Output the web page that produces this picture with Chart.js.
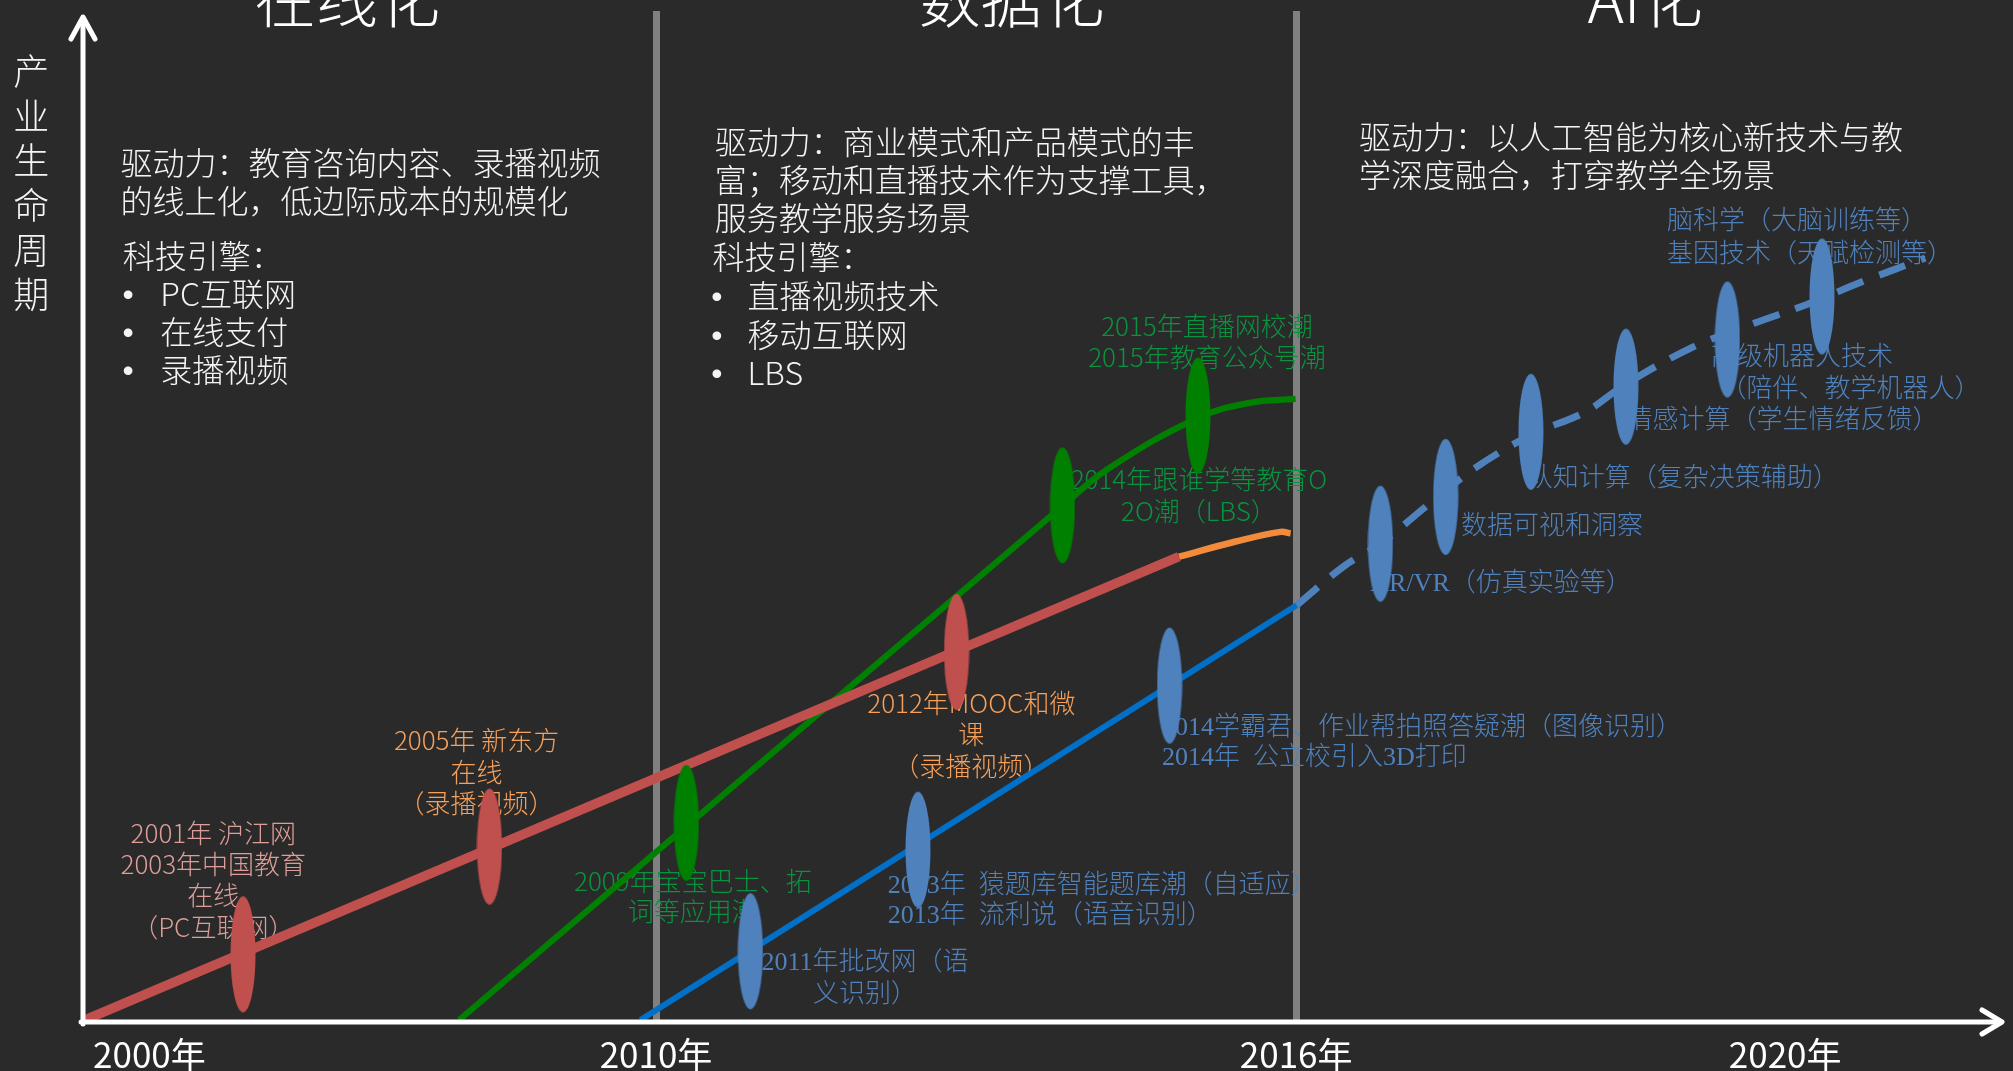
<!DOCTYPE html>
<html>
<head>
<meta charset="utf-8">
<script src="https://cdn.jsdelivr.net/npm/chart.js@4.4.1/dist/chart.umd.min.js"></script>
<style>
  html, body { margin: 0; padding: 0; background: #2a2a2a; overflow: hidden; }
  #wrap { width: 2013px; height: 1071px; position: relative; }
</style>
</head>
<body>
<div id="wrap"><canvas id="c" width="2013" height="1071"></canvas></div>
<script>
// ---------- data (abstract position units: x 0..100 time axis, y 0..100 industry life cycle) ----------
const xTickValues = [3.46, 29.86, 63.22, 88.7];
const xTickLabels = ['2000年', '2010年', '2016年', '2020年'];
const phaseBoundaries = [29.86, 63.22];          // 2010年 / 2016年 dividers
const yAxisTitle = '产业生命周期';

// 在线化 curve (red) and its tail (orange)
const onlineX = [0.1, 57.11];
const onlineY = [0.1, 45.97];
const onlineTailX = [57.11, 60.02, 62.41, 62.93];
const onlineTailY = [45.97, 47.45, 48.43, 48.28];

// 数据化 curve (green)
const dataX = [19.6, 51.04, 53.38, 58.10, 60.80, 63.19];
const dataY = [0.1, 50.98, 54.62, 59.72, 61.20, 61.59];

// AI curve: solid part (blue) and forecast (dashed)
const aiX = [29.05, 63.24];
const aiY = [0.1, 41.16];
const aiForecastX = [63.24, 65.68, 67.60, 70.14, 72.59, 75.49, 78.30, 80.32, 83.75, 86.76, 89.93, 92.83, 96.00];
const aiForecastY = [41.16, 44.99, 47.25, 51.18, 54.81, 58.06, 60.31, 62.97, 66.60, 68.86, 71.02, 73.28, 75.54];

// milestones (ellipses)
const onlineMilestoneX = [8.34, 21.18, 45.52];
const onlineMilestoneY = [6.60, 17.26, 36.54];
const dataMilestoneX = [31.44, 51.04, 58.10];
const dataMilestoneY = [19.62, 51.05, 59.94];
const aiMilestoneX = [34.78, 43.51, 56.62, 67.61, 71.01, 75.45, 80.40, 85.69, 90.62];
const aiMilestoneY = [6.90, 16.96, 33.20, 47.25, 51.89, 58.33, 62.80, 67.47, 71.73];

// ---------- text content ----------
const SANS = '"Noto Sans CJK SC", sans-serif';
const SERIF = '"Liberation Serif", "Noto Sans CJK SC", serif';
const BULLET = '"Liberation Sans", "DejaVu Sans", sans-serif';
const WHITE = '#f4f4f4';
const PINK = '#dd9e99';
const ORANGE = '#f7a05a';
const GREEN_T = '#0a933e';
const BLUE_T = '#4f81bd';

const phaseTitles = [
  { text: '在线化', x: 13.76 },
  { text: '数据化', x: 48.39 },
  { text: 'AI化', x: 81.4 }
];
const phaseTitleY = 101.1;

const textItems = [
  // phase 1 description
  { lines: ['驱动力：教育咨询内容、录播视频', '的线上化，低边际成本的规模化'], x: 1.95, y: 84.43, step: 38.5, size: 32, color: WHITE, align: 'left', font: SANS },
  { lines: ['科技引擎：'], x: 2.07, y: 75.15, step: 38, size: 32, color: WHITE, align: 'left', font: SANS },
  { lines: ['•', '•', '•'], x: 2.35, y: 71.41, step: 38, size: 32, color: WHITE, align: 'center', font: BULLET },
  { lines: ['PC互联网', '在线支付', '录播视频'], x: 4.03, y: 71.41, step: 38, size: 32, color: WHITE, align: 'left', font: SANS },
  // phase 2 description
  { lines: ['驱动力：商业模式和产品模式的丰', '富；移动和直播技术作为支撑工具，', '服务教学服务场景'], x: 32.92, y: 86.44, step: 38, size: 32, color: WHITE, align: 'left', font: SANS },
  { lines: ['科技引擎：'], x: 32.80, y: 75.05, step: 38, size: 32, color: WHITE, align: 'left', font: SANS },
  { lines: ['•', '•', '•'], x: 33.03, y: 71.22, step: 38.5, size: 32, color: WHITE, align: 'center', font: BULLET },
  { lines: ['直播视频技术', '移动互联网', 'LBS'], x: 34.63, y: 71.22, step: 38.5, size: 32, color: WHITE, align: 'left', font: SANS },
  // phase 3 description
  { lines: ['驱动力：以人工智能为核心新技术与教', '学深度融合，打穿教学全场景'], x: 66.49, y: 86.94, step: 38, size: 32, color: WHITE, align: 'left', font: SANS },

  // milestone labels
  { lines: ['2001年 沪江网', '2003年中国教育', '在线', '（PC互联网）'], x: 6.79, y: 18.17, step: 31.4, size: 26, color: PINK, align: 'center', font: SANS },
  { lines: ['2005年 新东方', '在线', '（录播视频）'], x: 20.51, y: 27.31, step: 31.5, size: 26, color: ORANGE, align: 'center', font: SANS },
  { lines: ['2012年MOOC和微', '课', '（录播视频）'], x: 46.29, y: 31.04, step: 31.5, size: 26, color: ORANGE, align: 'center', font: SANS },
  { lines: ['2009年宝宝巴士、拓', '词等应用潮'], x: 31.78, y: 13.36, step: 30, size: 26, color: GREEN_T, align: 'center', font: SANS },
  { lines: ['2014年跟谁学等教育O', '2O潮（LBS）'], x: 58.15, y: 53.14, step: 31.7, size: 26, color: GREEN_T, align: 'center', font: SANS },
  { lines: ['2015年直播网校潮', '2015年教育公众号潮'], x: 58.57, y: 68.37, step: 31, size: 26, color: GREEN_T, align: 'center', font: SANS },
  { lines: ['2011年批改网（语', '义识别）'], x: 40.75, y: 5.50, step: 31.7, size: 26, color: BLUE_T, align: 'center', font: SERIF },
  { lines: ['2013年  猿题库智能题库潮（自适应）', '2013年  流利说（语音识别）'], x: 41.94, y: 13.19, step: 30, size: 26, color: BLUE_T, align: 'left', font: SERIF },
  { lines: ['2014学霸君、作业帮拍照答疑潮（图像识别）', '2014年  公立校引入3D打印'], x: 56.23, y: 28.78, step: 30, size: 26, color: BLUE_T, align: 'left', font: SERIF },
  { lines: ['AR/VR（仿真实验等）'], x: 67.08, y: 43.03, step: 30, size: 26, color: BLUE_T, align: 'left', font: SERIF },
  { lines: ['数据可视和洞察'], x: 71.81, y: 48.72, step: 30, size: 26, color: BLUE_T, align: 'left', font: SERIF },
  { lines: ['认知计算（复杂决策辅助）'], x: 75.23, y: 53.47, step: 30, size: 26, color: BLUE_T, align: 'left', font: SERIF },
  { lines: ['情感计算（学生情绪反馈）'], x: 80.43, y: 59.23, step: 30, size: 26, color: BLUE_T, align: 'left', font: SERIF },
  { lines: ['高级机器人技术'], x: 84.84, y: 65.42, step: 30, size: 26, color: BLUE_T, align: 'left', font: SERIF },
  { lines: ['（陪伴、教学机器人）'], x: 85.33, y: 62.31, step: 30, size: 26, color: BLUE_T, align: 'left', font: SERIF },
  { lines: ['脑科学（大脑训练等）', '基因技术（天赋检测等）'], x: 82.54, y: 78.88, step: 33, size: 26, color: BLUE_T, align: 'left', font: SERIF }
];

// ---------- helpers ----------
function pts(xs, ys) { return xs.map((x, i) => ({ x: x, y: ys[i] })); }
function ellipseImage(color) {
  const c = document.createElement('canvas');
  c.width = 26; c.height = 118;
  const g = c.getContext('2d');
  g.fillStyle = color;
  g.beginPath();
  g.ellipse(13, 59, 12.5, 58, 0, 0, Math.PI * 2);
  g.fill();
  return c;
}

const decorPlugin = {
  id: 'decor',
  beforeDraw(chart) {
    const ctx = chart.ctx, xs = chart.scales.x, ys = chart.scales.y;
    ctx.save();
    ctx.fillStyle = '#2a2a2a';
    ctx.fillRect(0, 0, chart.width, chart.height);
    ctx.textBaseline = 'middle';
    // phase titles
    ctx.fillStyle = '#ffffff';
    ctx.font = '300 62px ' + SANS;
    ctx.textAlign = 'center';
    phaseTitles.forEach(t => ctx.fillText(t.text, xs.getPixelForValue(t.x), ys.getPixelForValue(phaseTitleY)));
    // y-axis title, vertical
    ctx.font = '300 36px ' + SANS;
    ctx.fillStyle = WHITE;
    const tx = xs.getPixelForValue(-2.70);
    const ty = ys.getPixelForValue(94.0);
    [...yAxisTitle].forEach((ch, i) => ctx.fillText(ch, tx, ty + i * 44.6));
    ctx.restore();
  },
  beforeDatasetsDraw(chart) {
    const ctx = chart.ctx, xs = chart.scales.x, ys = chart.scales.y;
    ctx.save();
    ctx.textBaseline = 'middle';
    textItems.forEach(item => {
      ctx.font = (item.font === BULLET ? '400 ' : '300 ') + item.size + 'px ' + item.font;
      ctx.fillStyle = item.color;
      ctx.textAlign = item.align;
      const px = xs.getPixelForValue(item.x);
      const shift = item.font === SANS ? -0.18 * item.size : (item.font === SERIF ? -0.07 * item.size : -0.1 * item.size);
      const py = ys.getPixelForValue(item.y) + shift;
      item.lines.forEach((ln, i) => ctx.fillText(ln, px, py + i * item.step));
    });
    ctx.restore();
  },
  afterDraw(chart) {
    const ctx = chart.ctx, xs = chart.scales.x, ys = chart.scales.y;
    const x0 = xs.getPixelForValue(0), y0 = ys.getPixelForValue(0) + 1;
    const yTop = ys.getPixelForValue(99.4), xEnd = xs.getPixelForValue(100);
    ctx.save();
    ctx.strokeStyle = '#ffffff';
    ctx.lineWidth = 5;
    ctx.lineJoin = 'round';
    ctx.lineCap = 'round';
    ctx.beginPath(); ctx.moveTo(x0, y0 + 2); ctx.lineTo(x0, yTop + 2); ctx.stroke();
    ctx.beginPath(); ctx.moveTo(x0 - 12, yTop + 22); ctx.lineTo(x0, yTop); ctx.lineTo(x0 + 12, yTop + 22); ctx.stroke();
    ctx.beginPath(); ctx.moveTo(x0 - 2, y0); ctx.lineTo(xEnd - 2, y0); ctx.stroke();
    ctx.beginPath(); ctx.moveTo(xEnd - 20, y0 - 12); ctx.lineTo(xEnd, y0); ctx.lineTo(xEnd - 20, y0 + 12); ctx.stroke();
    ctx.restore();
  }
};

const lineBase = { pointRadius: 0, pointHoverRadius: 0, fill: false, borderCapStyle: 'butt' };
const markBase = { showLine: false, pointRadius: 10, pointHoverRadius: 10 };

new Chart(document.getElementById('c'), {
  type: 'line',
  data: {
    datasets: [
      Object.assign({ label: '在线化节点', data: pts(onlineMilestoneX, onlineMilestoneY), pointStyle: ellipseImage('#c0504d') }, markBase),
      Object.assign({ label: '数据化节点', data: pts(dataMilestoneX, dataMilestoneY), pointStyle: ellipseImage('#008000') }, markBase),
      Object.assign({ label: 'AI化节点', data: pts(aiMilestoneX, aiMilestoneY), pointStyle: ellipseImage('#4f81bd') }, markBase),
      Object.assign({ label: '在线化', data: pts(onlineX, onlineY), borderColor: '#c0504d', borderWidth: 9.5, tension: 0 }, lineBase),
      Object.assign({ label: '在线化后期', data: pts(onlineTailX, onlineTailY), borderColor: '#f28c3c', borderWidth: 6.5, tension: 0.4 }, lineBase),
      Object.assign({ label: '数据化', data: pts(dataX, dataY), borderColor: '#008000', borderWidth: 6.2, tension: 0.4 }, lineBase),
      Object.assign({ label: 'AI化', data: pts(aiX, aiY), borderColor: '#0070c8', borderWidth: 6, tension: 0 }, lineBase),
      Object.assign({ label: 'AI化预测', data: pts(aiForecastX, aiForecastY), borderColor: '#4f81bd', borderWidth: 7, borderDash: [28, 17], tension: 0.35 }, lineBase)
    ]
  },
  options: {
    responsive: false,
    animation: false,
    events: [],
    layout: { padding: { left: 83, right: 4, top: 3, bottom: 0 } },
    plugins: { legend: { display: false }, tooltip: { enabled: false } },
    scales: {
      x: {
        type: 'linear', min: 0, max: 100,
        afterBuildTicks: (scale) => { scale.ticks = xTickValues.map(v => ({ value: v })); },
        afterFit: (scale) => { scale.height = 50; },
        grid: {
          drawTicks: false,
          lineWidth: 7,
          color: (ctx) => (ctx.tick && phaseBoundaries.includes(ctx.tick.value)) ? '#808080' : 'rgba(0,0,0,0)'
        },
        border: { display: false },
        ticks: {
          autoSkip: false, maxRotation: 0, padding: 13,
          color: '#ffffff',
          font: { family: SANS, size: 35 },
          callback: (value, index) => xTickLabels[index]
        }
      },
      y: { type: 'linear', min: 0, max: 100, display: false }
    }
  },
  plugins: [decorPlugin]
});
</script>
</body>
</html>
